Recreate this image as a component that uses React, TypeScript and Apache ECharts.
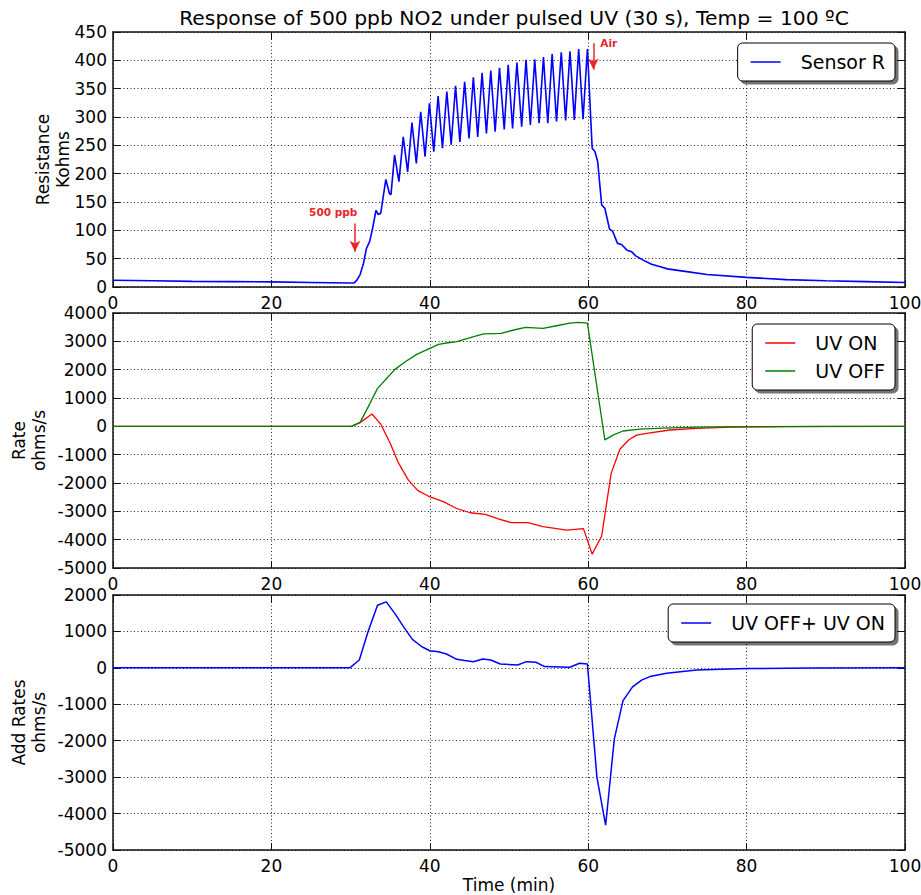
import React, { useEffect, useRef } from "react";
import * as echarts from "echarts";

const TITLE = "Response of 500 ppb NO2 under pulsed UV (30 s), Temp = 100 ºC";
const FONT = "DejaVu Sans";
const RED = "#ff0000";
const ANNOT = "#e8262a";

// Top: Sensor R (kOhm)
const sensorT = [0, 5, 10, 15, 20, 25, 30, 30.4, 30.8, 31.2, 31.6, 32, 32.4, 32.8, 33.2, 33.5, 33.8, 34.45, 34.9, 35.1, 35.55, 36.1, 36.65, 37.2, 37.75, 38.3, 38.85, 39.4, 39.95, 40.5, 41.05, 41.6, 42.15, 42.7, 43.25, 43.8, 44.4, 44.95, 45.5, 46.05, 46.6, 47.15, 47.7, 48.25, 48.8, 49.4, 49.9, 50.45, 51, 51.6, 52.15, 52.7, 53.25, 53.8, 54.35, 54.9, 55.45, 56, 56.6, 57.15, 57.7, 58.25, 58.8, 59.35, 59.9, 60.5, 60.85, 61.2, 61.7, 62.1, 62.7, 63.1, 63.7, 64.2, 64.9, 65.5, 66, 67, 68, 69, 70, 72, 75, 80, 85, 90, 95, 100];
const sensorR = [12, 11, 10, 9.5, 9, 8, 7, 7, 12, 22, 40, 68, 80, 105, 135, 128, 130, 190, 165, 163, 233, 186, 265, 203, 290, 218, 309, 230, 324, 239, 337, 245, 345, 251, 355, 256, 362, 262, 370, 265, 378, 271, 382, 274, 387, 278, 392, 280, 396, 283, 401, 286, 402, 289, 406, 289, 411, 292, 414, 294, 416, 295, 420, 296, 420, 245, 239, 221, 145, 139, 102, 98, 77, 75, 65, 62, 55, 47, 40, 36, 32, 28, 22, 17, 13, 11, 9.5, 8];

// Middle: rates (ohms/s)
const uvOnT = [0, 10, 20, 30.1, 31.2, 32.7, 33.8, 35, 36, 37.3, 38.5, 39.8, 41.7, 43.4, 45.1, 47, 48.65, 50.3, 52.4, 54.3, 57.3, 59.4, 60.5, 61.7, 62.9, 64, 65.1, 66.1, 67.4, 70.3, 73.7, 78, 85, 100];
const uvOnV = [0, 0, 0, 0, 130, 435, 80, -600, -1270, -1900, -2270, -2460, -2660, -2900, -3050, -3110, -3270, -3400, -3400, -3540, -3660, -3610, -4510, -3870, -1660, -810, -480, -310, -250, -130, -70, -30, -10, 0];
const uvOffT = [0, 10, 20, 30.1, 31.2, 32.45, 33.4, 34.55, 35.6, 36.9, 38.35, 40, 41.1, 42.3, 43.4, 45.1, 46.8, 49, 50.6, 52.1, 54.3, 56, 57.7, 58.75, 59.9, 62.1, 63.2, 64.4, 66.5, 69.5, 73.7, 80, 90, 100];
const uvOffV = [0, 0, 0, 0, 140, 810, 1340, 1690, 2010, 2280, 2540, 2750, 2890, 2950, 2990, 3130, 3260, 3280, 3400, 3490, 3460, 3550, 3640, 3670, 3640, -480, -300, -165, -95, -60, -30, -10, 0, 0];

// Bottom: sum of rates
const addT = [0, 10, 20, 29.9, 31.1, 32.2, 33.4, 34.5, 35.6, 36.65, 37.8, 39, 40, 41.1, 42.1, 43.4, 44.4, 45.5, 46.7, 47.7, 48.9, 51.1, 52.2, 53.4, 54.5, 57.7, 58.9, 59.9, 61.1, 62.2, 63.3, 64.4, 65.6, 66.8, 67.8, 69.9, 73.7, 80, 88, 100];
const addV = [0, 0, 0, 0, 215, 990, 1720, 1810, 1490, 1140, 780, 580, 470, 440, 380, 235, 200, 170, 245, 215, 107, 80, 170, 155, 35, 15, 125, 105, -3000, -4320, -1950, -900, -520, -330, -240, -150, -60, -20, -5, 0];

// Axis ranges / ticks
const xRange = { min: 0, max: 100, interval: 20 };
const topY = { min: 0, max: 450, interval: 50 };
const midY = { min: -5000, max: 4000, interval: 1000 };
const botY = { min: -5000, max: 2000, interval: 1000 };

// Annotations
const arrowPpb = [[30.55, 112], [30.55, 62]];
const arrowAir = [[60.65, 430], [60.65, 384]];
const labelPpb = { name: "500 ppb", coord: [27.8, 133] };
const labelAir = { name: "Air", coord: [62.6, 430] };

const zip = (a: number[], b: number[]) => a.map((t, i) => [t, b[i]]);

const GRIDS = [
  { left: 113, top: 32, width: 792, height: 255 },
  { left: 113, top: 313, width: 792, height: 255 },
  { left: 113, top: 595, width: 792, height: 255 },
];

const axisLine = { show: true, onZero: false, lineStyle: { color: "#111", width: 1.5 } };
const tick = { show: true, inside: true, length: 7, lineStyle: { color: "#111", width: 1 } };
const split = { show: true, lineStyle: { color: "#222", width: 1, type: [1, 2.5] as any } };
const labelStyle = { fontFamily: FONT, fontSize: 17, color: "#000" };
const fmt = (v: number) => String(v);

function buildX(gi: number, withName: boolean) {
  return [
    {
      type: "value", gridIndex: gi, position: "bottom", ...xRange,
      axisLine, axisTick: tick, splitLine: split,
      axisLabel: { ...labelStyle, margin: 7, formatter: fmt },
      name: withName ? "Time (min)" : "", nameLocation: "middle", nameGap: 26,
      nameMoveOverlap: false,
      nameTextStyle: { ...labelStyle },
    },
    {
      type: "value", gridIndex: gi, position: "top", ...xRange,
      axisLine, axisTick: tick, splitLine: { show: false }, axisLabel: { show: false },
    },
  ];
}

function buildY(gi: number, range: any, name: string, gap: number) {
  return [
    {
      type: "value", gridIndex: gi, position: "left", ...range,
      axisLine, axisTick: tick, splitLine: split,
      axisLabel: { ...labelStyle, margin: 6, formatter: fmt },
      name, nameLocation: "middle", nameRotate: 90, nameGap: gap,
      nameMoveOverlap: false,
      nameTextStyle: { ...labelStyle, align: "center", lineHeight: 20 },
    },
    {
      type: "value", gridIndex: gi, position: "right", ...range,
      axisLine, axisTick: tick, splitLine: { show: false }, axisLabel: { show: false },
    },
  ];
}

function legendBox(name: string[], top: number) {
  return {
    data: name, top, right: 26, orient: "vertical", align: "left",
    icon: "rect",
    padding: [8, 10, 8, 13], itemGap: 6, itemWidth: 30, itemHeight: 1.5,
    backgroundColor: "#fff", borderColor: "#000", borderWidth: 1, borderRadius: 5,
    shadowColor: "rgba(0,0,0,0.55)", shadowBlur: 1, shadowOffsetX: 3, shadowOffsetY: 3,
    textStyle: { fontFamily: FONT, fontSize: 19, color: "#000", lineHeight: 22, padding: [0, 0, 0, 15] },
    selectedMode: false,
  };
}

export default function App() {
  const ref = useRef<HTMLDivElement>(null);
  useEffect(() => {
    if (!ref.current) return;
    const chart = echarts.init(ref.current, undefined, { renderer: "svg" });
    const option: any = {
      animation: false,
      backgroundColor: "#fff",
      title: {
        text: TITLE, left: 509, top: 3, textAlign: "center",
        textStyle: { fontFamily: FONT, fontSize: 20.3, fontWeight: "normal", color: "#000" },
      },
      grid: GRIDS.map((g) => ({ ...g, show: false, containLabel: false, outerBoundsMode: "none" })),
      xAxis: [...buildX(0, false), ...buildX(1, false), ...buildX(2, true)],
      yAxis: [
        ...buildY(0, topY, "Resistance\nKohms", 40),
        ...buildY(1, midY, "Rate\nohms/s", 64),
        ...buildY(2, botY, "Add Rates\nohms/s", 64),
      ],
      legend: [
        legendBox(["Sensor R"], 43),
        legendBox(["UV ON", "UV OFF"], 324),
        legendBox(["UV OFF+ UV ON"], 604),
      ],
      series: [
        {
          name: "Sensor R", type: "line", xAxisIndex: 0, yAxisIndex: 0,
          data: zip(sensorT, sensorR), symbol: "none",
          lineStyle: { color: "#0000ff", width: 1.6 }, itemStyle: { color: "#0000ff" },
          markLine: {
            silent: true, symbol: ["none", "arrow"], symbolSize: [8, 11],
            lineStyle: { color: ANNOT, width: 1.5, type: "solid" },
            label: { show: false },
            data: [
              [{ coord: arrowPpb[0] }, { coord: arrowPpb[1] }],
              [{ coord: arrowAir[0] }, { coord: arrowAir[1] }],
            ],
          },
          markPoint: {
            silent: true, symbol: "circle", symbolSize: 1,
            itemStyle: { color: "rgba(0,0,0,0)" },
            label: {
              show: true, position: "inside", formatter: "{b}",
              color: ANNOT, fontFamily: FONT, fontWeight: "bold", fontSize: 10.5,
            },
            data: [labelPpb, labelAir],
          },
        },
        {
          name: "UV ON", type: "line", xAxisIndex: 2, yAxisIndex: 2,
          data: zip(uvOnT, uvOnV), symbol: "none",
          lineStyle: { color: RED, width: 1.3 }, itemStyle: { color: RED },
        },
        {
          name: "UV OFF", type: "line", xAxisIndex: 2, yAxisIndex: 2,
          data: zip(uvOffT, uvOffV), symbol: "none",
          lineStyle: { color: "#008000", width: 1.3 }, itemStyle: { color: "#008000" },
        },
        {
          name: "UV OFF+ UV ON", type: "line", xAxisIndex: 4, yAxisIndex: 4,
          data: zip(addT, addV), symbol: "none",
          lineStyle: { color: "#0000ff", width: 1.5 }, itemStyle: { color: "#0000ff" },
        },
      ],
    };
    chart.setOption(option);
    return () => chart.dispose();
  }, []);
  return (
    <div
      ref={ref}
      style={{ position: "fixed", left: 0, top: 0, width: 921, height: 895, background: "#fff" }}
    />
  );
}
